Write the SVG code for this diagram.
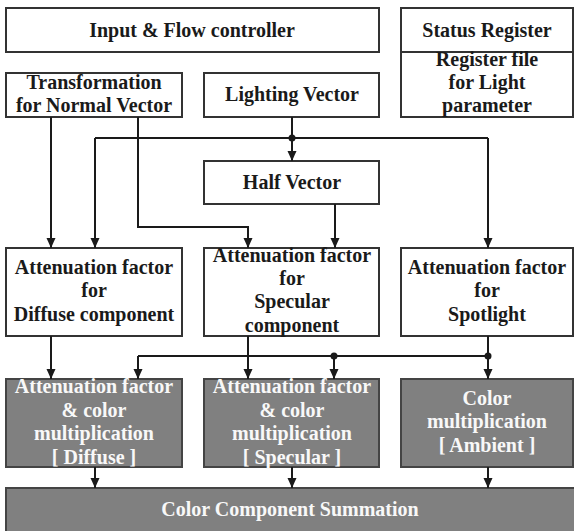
<svg xmlns="http://www.w3.org/2000/svg" width="574" height="531" viewBox="0 0 574 531">
<defs>
<marker id="ah" viewBox="0 0 10 10" refX="10" refY="5" markerWidth="10" markerHeight="10" markerUnits="userSpaceOnUse" orient="auto">
<path d="M0,0.5 L10,5 L0,9.5 Z" fill="#1a1a1a"/>
</marker>
<style>
.box{fill:#fff;stroke:#333;stroke-width:2}
.gbox{fill:#808080;stroke:#444;stroke-width:2}
.t{font-family:"Liberation Serif","Times New Roman",serif;font-weight:bold;font-size:20px;fill:#1a1a1a;text-anchor:middle}
.w{fill:#f8f8f8}
.ln{fill:none;stroke:#1a1a1a;stroke-width:2}
.ar{marker-end:url(#ah)}
.dot{fill:#1a1a1a}
</style>
</defs>
<rect width="574" height="531" fill="#fff"/>

<g id="input-flow">
<rect class="box" x="6" y="8" width="373" height="44"/>
<text class="t" x="192" y="37">Input &amp; Flow controller</text>
</g>

<g id="status-register">
<rect class="box" x="401" y="8" width="172" height="109"/>
<line x1="401" y1="52" x2="574" y2="52" stroke="#333" stroke-width="2"/>
<text class="t" x="487" y="37">Status Register</text>
<text class="t" x="487" y="66">Register file</text>
<text class="t" x="487" y="89">for Light</text>
<text class="t" x="487" y="112">parameter</text>
</g>

<g id="transformation">
<rect class="box" x="6" y="73" width="176" height="44"/>
<text class="t" x="94" y="89">Transformation</text>
<text class="t" x="94" y="112">for Normal Vector</text>
</g>

<g id="lighting-vector">
<rect class="box" x="204" y="73" width="175" height="44"/>
<text class="t" x="292" y="101">Lighting Vector</text>
</g>

<g id="half-vector">
<rect class="box" x="204" y="161" width="175" height="43"/>
<text class="t" x="292" y="189">Half Vector</text>
</g>

<g id="att-diffuse">
<rect class="box" x="6" y="248" width="176" height="88"/>
<text class="t" x="94" y="274">Attenuation factor</text>
<text class="t" x="94" y="297">for</text>
<text class="t" x="94" y="321">Diffuse component</text>
</g>

<g id="att-specular">
<rect class="box" x="204" y="248" width="175" height="88"/>
<text class="t" x="292" y="262">Attenuation factor</text>
<text class="t" x="292" y="285">for</text>
<text class="t" x="292" y="308">Specular</text>
<text class="t" x="292" y="332">component</text>
</g>

<g id="att-spotlight">
<rect class="box" x="401" y="248" width="172" height="88"/>
<text class="t" x="487" y="274">Attenuation factor</text>
<text class="t" x="487" y="297">for</text>
<text class="t" x="487" y="321">Spotlight</text>
</g>

<g id="mul-diffuse">
<rect class="gbox" x="6" y="379" width="176" height="88"/>
<text class="t w" x="94" y="393">Attenuation factor</text>
<text class="t w" x="94" y="417">&amp; color</text>
<text class="t w" x="94" y="440">multiplication</text>
<text class="t w" x="94" y="464">[ Diffuse ]</text>
</g>

<g id="mul-specular">
<rect class="gbox" x="204" y="379" width="175" height="88"/>
<text class="t w" x="292" y="393">Attenuation factor</text>
<text class="t w" x="292" y="417">&amp; color</text>
<text class="t w" x="292" y="440">multiplication</text>
<text class="t w" x="292" y="464">[ Specular ]</text>
</g>

<g id="mul-ambient">
<rect class="gbox" x="401" y="379" width="172" height="88"/>
<text class="t w" x="487" y="405">Color</text>
<text class="t w" x="487" y="428">multiplication</text>
<text class="t w" x="487" y="452">[ Ambient ]</text>
</g>

<g id="summation">
<rect class="gbox" x="6" y="488" width="570" height="50"/>
<text class="t w" x="290" y="516">Color Component Summation</text>
</g>

<g id="connectors">
<path class="ln ar" d="M292,117 V161"/>
<path class="ln" d="M95,138 H488"/>
<path class="ln ar" d="M95,138 V248"/>
<path class="ln ar" d="M488,138 V248"/>
<path class="ln ar" d="M51,117 V248"/>
<path class="ln ar" d="M138,117 V227 H248 V248"/>
<path class="ln ar" d="M335,204 V248"/>
<circle class="dot" cx="292" cy="138" r="3.5"/>

<path class="ln ar" d="M51,336 V379"/>
<path class="ln ar" d="M248,336 V379"/>
<path class="ln ar" d="M488,336 V379"/>
<path class="ln" d="M138,356 H488"/>
<path class="ln ar" d="M138,356 V379"/>
<path class="ln ar" d="M334,356 V379"/>
<circle class="dot" cx="334" cy="356" r="3.5"/>
<circle class="dot" cx="488" cy="356" r="3.5"/>

<path class="ln ar" d="M95,467 V488"/>
<path class="ln ar" d="M292,467 V488"/>
<path class="ln ar" d="M488,467 V488"/>
</g>
</svg>
